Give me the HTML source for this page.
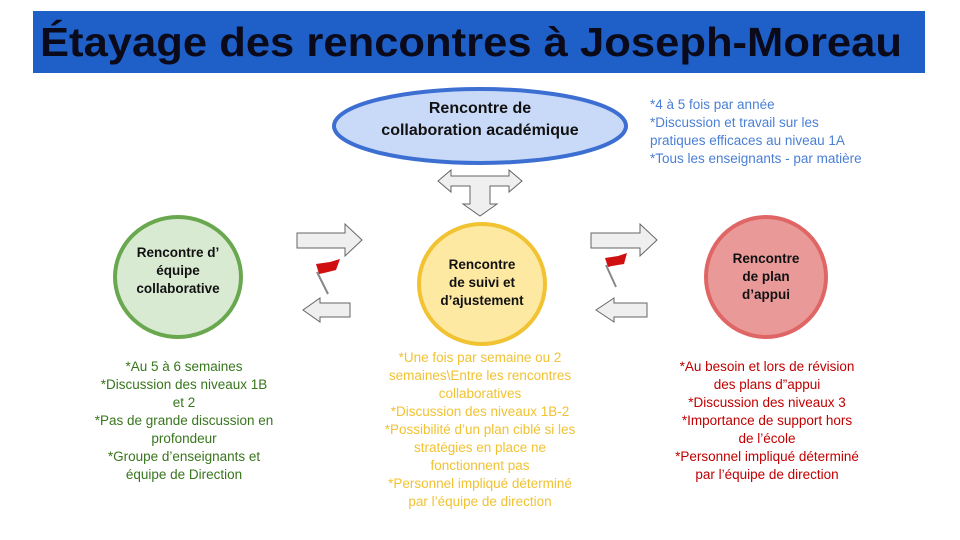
<!DOCTYPE html>
<html><head><meta charset="utf-8"><style>
html,body{margin:0;padding:0;background:#fff}
svg{display:block}
text{font-family:"Liberation Sans",sans-serif}
</style></head><body>
<svg width="960" height="540" viewBox="0 0 960 540" xmlns="http://www.w3.org/2000/svg">
<rect x="33" y="11" width="892" height="62" fill="#1f5fc8"/>
<text x="40" y="56" font-size="41" font-weight="bold" fill="#0a0a1a" textLength="862" lengthAdjust="spacingAndGlyphs">Étayage des rencontres à Joseph-Moreau</text>

<ellipse cx="480" cy="126" rx="146" ry="37" fill="#c9daf8" stroke="#3c6fd1" stroke-width="4"/>
<text x="480" y="113" font-size="16" font-weight="bold" text-anchor="middle" fill="#111">Rencontre de</text>
<text x="480" y="135" font-size="16" font-weight="bold" text-anchor="middle" fill="#111">collaboration académique</text>

<g font-size="13.5" fill="#4a7fd6">
<text x="650" y="109">*4 à 5 fois par année</text>
<text x="650" y="127">*Discussion et travail sur les</text>
<text x="650" y="145">pratiques efficaces au niveau 1A</text>
<text x="650" y="163">*Tous les enseignants - par matière</text>
</g>

<g fill="#efefef" stroke="#666" stroke-width="1">
<polygon points="438,181 451,170 451,176 509,176 509,170 522,181 509,192 509,186 490,186 490,204 497,204 480,216 463,204 470,204 470,186 451,186 451,192"/>
<polygon points="297,233 345,233 345,224 362,240 345,256 345,248 297,248"/>
<polygon points="350,303 320,303 320,298 303,310 320,322 320,317 350,317"/>
<polygon points="591,233 640,233 640,224 657,240 640,256 640,248 591,248"/>
<polygon points="647,303 614,303 614,298 596,310 614,322 614,317 647,317"/>
</g>

<line x1="317" y1="272" x2="328" y2="294" stroke="#888" stroke-width="2"/>
<polygon points="316,264 330,262 340,259 336,270 324,273 319,274" fill="#d01010"/>
<line x1="606" y1="265" x2="616" y2="287" stroke="#888" stroke-width="2"/>
<polygon points="605,258 618,256 627,253 624,264 612,266 608,267" fill="#d01010"/>

<ellipse cx="178" cy="277" rx="63" ry="60" fill="#d9ead3" stroke="#6aa84f" stroke-width="4"/>
<g font-size="13.5" font-weight="bold" text-anchor="middle" fill="#111">
<text x="178" y="257">Rencontre d’</text>
<text x="178" y="275">équipe</text>
<text x="178" y="293">collaborative</text>
</g>
<ellipse cx="482" cy="284" rx="63" ry="60" fill="#fde9a2" stroke="#f1c232" stroke-width="4"/>
<g font-size="13.5" font-weight="bold" text-anchor="middle" fill="#111">
<text x="482" y="269">Rencontre</text>
<text x="482" y="287">de suivi et</text>
<text x="482" y="305">d’ajustement</text>
</g>
<ellipse cx="766" cy="277" rx="60" ry="60" fill="#ea9999" stroke="#e06666" stroke-width="4"/>
<g font-size="13.5" font-weight="bold" text-anchor="middle" fill="#111">
<text x="766" y="263">Rencontre</text>
<text x="766" y="281">de plan</text>
<text x="766" y="299">d’appui</text>
</g>

<g font-size="13.5" text-anchor="middle" fill="#38761d">
<text x="184" y="371">*Au 5 à 6 semaines</text>
<text x="184" y="389">*Discussion des niveaux 1B</text>
<text x="184" y="407">et 2</text>
<text x="184" y="425">*Pas de grande discussion en</text>
<text x="184" y="443">profondeur</text>
<text x="184" y="461">*Groupe d’enseignants et</text>
<text x="184" y="479">équipe de Direction</text>
</g>
<g font-size="13.5" text-anchor="middle" fill="#f1c232">
<text x="480" y="362">*Une fois par semaine ou 2</text>
<text x="480" y="380">semaines\Entre les rencontres</text>
<text x="480" y="398">collaboratives</text>
<text x="480" y="416">*Discussion des niveaux 1B-2</text>
<text x="480" y="434">*Possibilité d’un plan ciblé si les</text>
<text x="480" y="452">stratégies en place ne</text>
<text x="480" y="470">fonctionnent pas</text>
<text x="480" y="488">*Personnel impliqué déterminé</text>
<text x="480" y="506">par l’équipe de direction</text>
</g>
<g font-size="13.5" text-anchor="middle" fill="#c00000">
<text x="767" y="371">*Au besoin et lors de révision</text>
<text x="767" y="389">des plans d”appui</text>
<text x="767" y="407">*Discussion des niveaux 3</text>
<text x="767" y="425">*Importance de support hors</text>
<text x="767" y="443">de l’école</text>
<text x="767" y="461">*Personnel impliqué déterminé</text>
<text x="767" y="479">par l’équipe de direction</text>
</g>
</svg>
</body></html>
